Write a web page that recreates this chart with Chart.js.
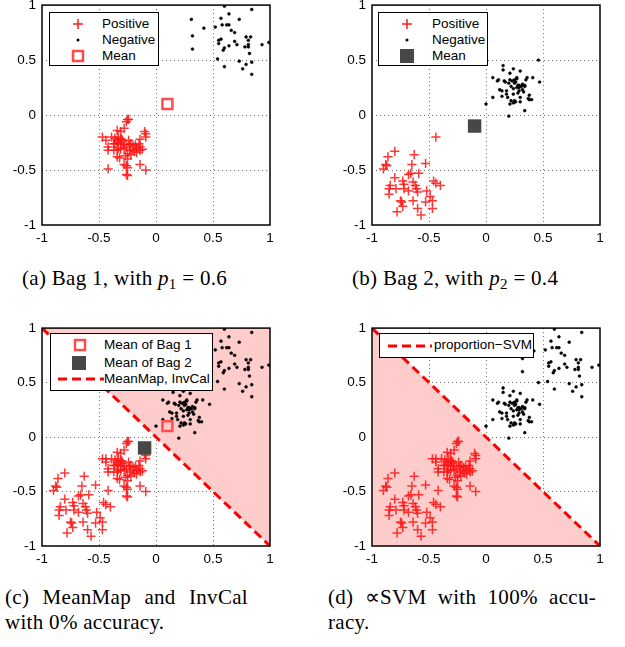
<!DOCTYPE html>
<html>
<head>
<meta charset="utf-8">
<script src="https://cdn.jsdelivr.net/npm/chart.js@4.4.1/dist/chart.umd.min.js"></script>
<style>
  body { margin: 0; background: #fff; width: 625px; height: 647px; position: relative; overflow: hidden;
         font-family: "Liberation Sans", Arial, sans-serif; }
  canvas { position: absolute; }
  .legend { position: absolute; background: #fff; border: 1.3px solid #000; box-sizing: border-box; font-size: 13.5px; }
  .legend .item { position: absolute; white-space: nowrap; line-height: 16px; }
  .legend svg { position: absolute; }
  .cap { position: absolute; font-family: "Liberation Serif", serif; font-size: 21px; letter-spacing: 0.3px;
         line-height: 25px; white-space: nowrap; color: #000; }
  .cap sub { font-size: 15px; vertical-align: -4px; line-height: 0; }
  .just { text-align: justify; text-align-last: justify; }
</style>
</head>
<body>
<canvas id="chartA"></canvas>
<canvas id="chartB"></canvas>
<canvas id="chartC"></canvas>
<canvas id="chartD"></canvas>

<!-- legends -->
<div class="legend" style="left:49px;top:12px;width:110px;height:54px">
  <svg style="left:22px;top:5px" width="12" height="12"><path d="M1 6H11M6 1V11" stroke="#ff1a1a" stroke-width="1.5"/></svg>
  <div class="item" style="left:52px;top:3px">Positive</div>
  <svg style="left:22px;top:21px" width="12" height="12"><circle cx="6" cy="6" r="1.5" fill="#000"/></svg>
  <div class="item" style="left:52px;top:19px">Negative</div>
  <svg style="left:21px;top:36px" width="14" height="14"><rect x="2" y="2" width="10" height="10" fill="none" stroke="#ff4d4d" stroke-width="2.5"/></svg>
  <div class="item" style="left:52px;top:35px">Mean</div>
</div>

<div class="legend" style="left:378px;top:12px;width:110px;height:54px">
  <svg style="left:22px;top:5px" width="12" height="12"><path d="M1 6H11M6 1V11" stroke="#ff1a1a" stroke-width="1.5"/></svg>
  <div class="item" style="left:53px;top:3px">Positive</div>
  <svg style="left:22px;top:21px" width="12" height="12"><circle cx="6" cy="6" r="1.5" fill="#000"/></svg>
  <div class="item" style="left:53px;top:19px">Negative</div>
  <svg style="left:21px;top:36px" width="14" height="14"><rect x="0" y="0" width="14" height="14" fill="#474747"/></svg>
  <div class="item" style="left:53px;top:35px">Mean</div>
</div>

<div class="legend" style="left:50px;top:333px;width:163px;height:58px">
  <svg style="left:22px;top:4px" width="14" height="14"><rect x="2" y="2" width="10" height="10" fill="none" stroke="#ff4d4d" stroke-width="2.5"/></svg>
  <div class="item" style="left:53px;top:3px">Mean of Bag 1</div>
  <svg style="left:21px;top:22px" width="14" height="14"><rect x="0" y="0" width="14" height="14" fill="#474747"/></svg>
  <div class="item" style="left:53px;top:21px">Mean of Bag 2</div>
  <svg style="left:7px;top:42px" width="46" height="6"><line x1="0" y1="3" x2="46" y2="3" stroke="#ff0000" stroke-width="3" stroke-dasharray="9,5"/></svg>
  <div class="item" style="left:53px;top:37px">MeanMap, InvCal</div>
</div>

<div class="legend" style="left:379px;top:333px;width:155px;height:25px">
  <svg style="left:8px;top:9px" width="44" height="6"><line x1="0" y1="3" x2="44" y2="3" stroke="#ff0000" stroke-width="3" stroke-dasharray="9,5"/></svg>
  <div class="item" style="left:54px;top:3px">proportion−SVM</div>
</div>

<!-- captions -->
<div class="cap" style="left:22px;top:266px">(a) Bag 1, with <i>p</i><sub>1</sub> = 0.6</div>
<div class="cap" style="left:352px;top:266px">(b) Bag 2, with <i>p</i><sub>2</sub> = 0.4</div>
<div class="cap just" style="left:5px;top:585px;width:243px">(c) MeanMap and InvCal</div>
<div class="cap" style="left:5px;top:610px">with 0% accuracy.</div>
<div class="cap just" style="left:328px;top:585px;width:268px">(d) ∝SVM with 100% accu-</div>
<div class="cap" style="left:328px;top:610px">racy.</div>

<script>
// bag 1 (p1 = 0.6): positives around (-0.27,-0.28), negatives around (0.65,0.68)
const bag1PosX = [-0.25,-0.26,-0.24,-0.28,-0.34,-0.31,-0.10,-0.09,-0.09,-0.47,-0.44,-0.39,-0.36,-0.34,-0.33,-0.31,
  -0.42,-0.37,-0.34,-0.31,-0.28,-0.26,-0.24,-0.22,-0.18,-0.15,-0.14,-0.12,-0.14,-0.20,-0.23,-0.25,-0.31,-0.34,
  -0.37,-0.42,-0.34,-0.32,-0.27,-0.22,-0.17,-0.28,-0.26,-0.25,-0.14,-0.42,-0.09,-0.26,-0.25,
  -0.30,-0.28,-0.20,-0.17,-0.23,-0.36,-0.25,-0.14,-0.33,-0.19,-0.29];
const bag1PosY = [-0.04,-0.06,-0.04,-0.12,-0.14,-0.15,-0.15,-0.17,-0.20,-0.20,-0.23,-0.20,-0.21,-0.23,-0.20,-0.22,
  -0.29,-0.26,-0.25,-0.26,-0.27,-0.29,-0.23,-0.26,-0.27,-0.26,-0.29,-0.31,-0.32,-0.31,-0.32,-0.35,-0.31,-0.32,
  -0.32,-0.32,-0.38,-0.39,-0.37,-0.36,-0.34,-0.45,-0.46,-0.48,-0.45,-0.49,-0.50,-0.54,-0.55,
  -0.22,-0.30,-0.28,-0.30,-0.27,-0.26,-0.40,-0.22,-0.30,-0.33,-0.24];
const bag1NegX = [0.60,0.84,0.31,0.64,0.57,0.73,0.42,0.52,0.58,0.62,0.64,0.66,0.69,0.32,0.32,0.55,0.57,0.55,0.69,0.71,
  0.60,0.59,0.64,0.79,0.83,0.81,0.81,0.78,0.81,0.93,0.99,0.54,0.60,0.73,0.76,0.79,0.84,0.82,0.84];
const bag1NegY = [0.99,0.96,0.87,0.92,0.88,0.87,0.79,0.80,0.82,0.82,0.82,0.77,0.75,0.72,0.60,0.68,0.69,0.65,0.67,0.64,
  0.61,0.59,0.63,0.71,0.71,0.68,0.64,0.62,0.62,0.64,0.66,0.51,0.44,0.49,0.42,0.46,0.48,0.56,0.37];

// bag 2 (p2 = 0.4): positives around (-0.66,-0.65), negatives around (0.27,0.26)
const bag2PosX = [-0.44,-0.80,-0.86,-0.88,-0.90,-0.87,-0.63,-0.65,-0.53,-0.66,-0.68,-0.59,-0.80,-0.73,-0.72,-0.64,
  -0.62,-0.61,-0.60,-0.84,-0.85,-0.85,-0.79,-0.72,-0.68,-0.52,-0.49,-0.46,-0.44,-0.40,-0.47,-0.47,-0.53,-0.64,
  -0.75,-0.74,-0.73,-0.78,-0.60,-0.57];
const bag2PosY = [-0.20,-0.33,-0.38,-0.45,-0.49,-0.46,-0.36,-0.45,-0.44,-0.53,-0.54,-0.53,-0.57,-0.60,-0.63,-0.61,
  -0.64,-0.67,-0.70,-0.64,-0.67,-0.72,-0.67,-0.67,-0.69,-0.69,-0.74,-0.60,-0.62,-0.64,-0.78,-0.85,-0.79,-0.78,
  -0.78,-0.79,-0.83,-0.88,-0.85,-0.91];
const bag2NegX = [0.46,0.15,0.15,0.24,0.30,0.06,0.11,0.16,0.21,0.23,0.25,0.27,0.36,0.41,0.20,0.25,0.28,0.29,0.31,0.27,
  0.24,0.47,0.34,0.18,0.14,0.29,0.32,0.18,0.06,0.14,0.38,0.38,0.40,0.22,0.25,0.26,0.24,0.21,0.30,0.00,0.34,0.20,
  0.10,0.26,0.29,0.32,0.22,0.28,0.24,0.33,0.35,0.17,0.27,0.12,0.30,0.25,0.21,0.37,0.19,0.34];
const bag2NegY = [0.50,0.45,0.41,0.42,0.40,0.34,0.32,0.31,0.32,0.31,0.32,0.33,0.34,0.34,0.29,0.29,0.27,0.27,0.26,0.25,
  0.24,0.30,0.27,0.22,0.22,0.22,0.23,0.19,0.16,0.17,0.18,0.14,0.14,0.13,0.13,0.12,0.11,0.10,0.16,0.10,0.04,-0.01,
  0.31,0.30,0.25,0.28,0.26,0.20,0.19,0.21,0.32,0.30,0.34,0.23,0.12,0.12,0.38,0.15,0.16,0.26];

const meanBag1 = [0.1, 0.1];
const meanBag2 = [-0.1, -0.1];
const boundaryX = [-1, 1];
const boundaryY = [1, -1];
const tickValues = [-1, -0.5, 0, 0.5, 1];

Chart.defaults.font.family = '"Liberation Sans", Arial, sans-serif';
Chart.defaults.font.size = 13.5;
Chart.defaults.color = '#000';

const pts = (xs, ys) => xs.map((x, i) => ({ x: x, y: ys[i] }));

const posStyle = (xs, ys) => ({
  data: pts(xs, ys), pointStyle: 'cross', pointRadius: 4.6, pointBorderWidth: 1.5,
  borderColor: 'rgba(255,20,20,0.85)', backgroundColor: 'rgba(255,20,20,0.85)', order: 2
});
const negStyle = (xs, ys) => ({
  data: pts(xs, ys), pointStyle: 'circle', pointRadius: 1.4, pointBorderWidth: 0.6,
  borderColor: '#000', backgroundColor: '#000', order: 2
});
const mean1Style = {
  data: [{ x: meanBag1[0], y: meanBag1[1] }], pointStyle: 'rect', pointRadius: 7, pointBorderWidth: 2.5,
  borderColor: '#ff4d4d', backgroundColor: 'rgba(0,0,0,0)', order: 1
};
const mean2Style = {
  data: [{ x: meanBag2[0], y: meanBag2[1] }], pointStyle: 'rect', pointRadius: 9.5, pointBorderWidth: 0,
  borderColor: '#474747', backgroundColor: '#474747', order: 1
};
const boundary = (fillTo) => ({
  type: 'line', data: pts(boundaryX, boundaryY), showLine: true, pointRadius: 0,
  borderColor: '#ff0000', borderWidth: 3, borderDash: [9, 5],
  fill: fillTo, backgroundColor: 'rgb(255,204,204)', order: 10
});

// black box all round the axes, like matlab
const boxPlugin = {
  id: 'box',
  afterDraw(chart) {
    const a = chart.chartArea, ctx = chart.ctx;
    ctx.save();
    ctx.strokeStyle = '#000';
    ctx.lineWidth = 1.5;
    ctx.strokeRect(a.left, a.top, a.right - a.left, a.bottom - a.top);
    ctx.restore();
  }
};

const AX = 44, PAD = 14, XH = 24;

function makePanel(id, rect, datasets) {
  const cv = document.getElementById(id);
  cv.width = AX + rect.w + PAD;
  cv.height = PAD + rect.h + XH;
  cv.style.left = (rect.l - AX) + 'px';
  cv.style.top = (rect.t - PAD) + 'px';
  const axis = (horizontal) => ({
    type: 'linear', min: -1, max: 1,
    afterBuildTicks: s => { s.ticks = tickValues.map(v => ({ value: v })); },
    afterFit: s => { if (horizontal) s.height = XH; else s.width = AX; },
    ticks: { padding: horizontal ? 5 : 6, callback: v => String(v) },
    grid: {
      drawTicks: false, lineWidth: 1,
      color: c => (c.tick && Math.abs(c.tick.value) === 1) ? 'rgba(0,0,0,0)' : '#6a6a6a'
    },
    border: { display: false, dash: [1, 3] }
  });
  return new Chart(cv, {
    type: 'scatter',
    data: { datasets: datasets },
    options: {
      responsive: false, animation: false, events: [],
      layout: { padding: { top: PAD, right: PAD, left: 0, bottom: 0 } },
      plugins: { legend: { display: false }, tooltip: { enabled: false } },
      scales: { x: axis(true), y: axis(false) }
    },
    plugins: [boxPlugin]
  });
}

makePanel('chartA', { l: 42, t: 5, w: 228, h: 220 }, [
  posStyle(bag1PosX, bag1PosY), negStyle(bag1NegX, bag1NegY), mean1Style
]);
makePanel('chartB', { l: 372, t: 5, w: 228, h: 220 }, [
  posStyle(bag2PosX, bag2PosY), negStyle(bag2NegX, bag2NegY), mean2Style
]);
makePanel('chartC', { l: 42, t: 328, w: 228, h: 218 }, [
  posStyle(bag1PosX, bag1PosY), posStyle(bag2PosX, bag2PosY),
  negStyle(bag1NegX, bag1NegY), negStyle(bag2NegX, bag2NegY),
  mean1Style, mean2Style, boundary('end')
]);
makePanel('chartD', { l: 372, t: 328, w: 228, h: 218 }, [
  posStyle(bag1PosX, bag1PosY), posStyle(bag2PosX, bag2PosY),
  negStyle(bag1NegX, bag1NegY), negStyle(bag2NegX, bag2NegY),
  boundary('start')
]);
</script>
</body>
</html>
